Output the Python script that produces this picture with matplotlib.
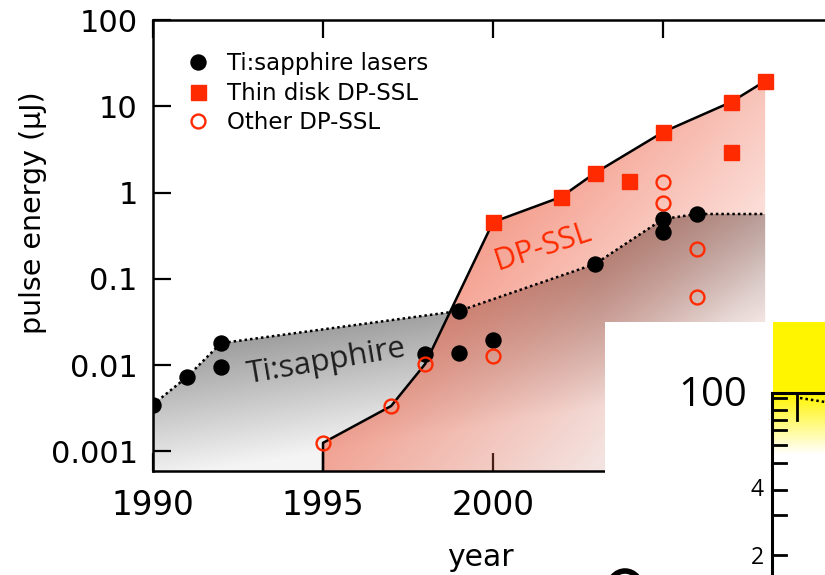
import numpy as np
import matplotlib
matplotlib.use('Agg')
import matplotlib.pyplot as plt
from matplotlib.patches import Polygon, Rectangle, Ellipse

plt.rcParams['font.family'] = ['DejaVu Sans']

# Ti:sapphire lasers (black dots)
ti_years = [1990, 1991, 1992, 1992, 1998, 1999, 1999, 2000, 2003, 2005, 2005, 2006]
ti_vals = [0.0035, 0.0073, 0.018, 0.0095, 0.0135, 0.0425, 0.0138, 0.0196, 0.149, 0.494, 0.35, 0.565]

# Thin disk DP-SSL (red squares)
thin_years = [2000, 2002, 2003, 2004, 2005, 2007, 2007, 2008]
thin_vals = [0.456, 0.89, 1.69, 1.36, 5.03, 11.2, 2.95, 19.6]

# Other DP-SSL (open red circles)
other_years = [1995, 1997, 1998, 2000, 2005, 2005, 2006, 2006]
other_vals = [0.00126, 0.00336, 0.0103, 0.0128, 1.33, 0.757, 0.222, 0.0617]

# envelopes
ti_env_years = [1990, 1991, 1992, 1999, 2003, 2005, 2006, 2008]
ti_env_vals = [0.0035, 0.0073, 0.018, 0.0425, 0.149, 0.494, 0.565, 0.565]
dp_env_years = [1995, 1997, 1998, 2000, 2002, 2003, 2005, 2007, 2008]
dp_env_vals = [0.00126, 0.00336, 0.0103, 0.456, 0.89, 1.69, 5.03, 11.2, 19.6]

ymin, ymax = 10 ** -3.226, 100
xmin, xmax = 1990, 2009.76
red = '#ff2a00'

fig = plt.figure(figsize=(8.25, 5.75), dpi=100)
W, H = 825, 575
AX_L, AX_T, AX_W, AX_H = 153, 20, 672, 451
ax = fig.add_axes([AX_L / W, (H - AX_T - AX_H) / H, AX_W / W, AX_H / H])
ax.set_yscale('log')
ax.set_xlim(xmin, xmax)
ax.set_ylim(ymin, ymax)

# gradient grids (axes coords -> pixel positions in the figure)
u = np.linspace(0, 1, 500)
v = np.linspace(0, 1, 400)
U, V = np.meshgrid(u, v)
PX = AX_L + U * AX_W
PY = AX_T + AX_H - V * AX_H

# grey: darker towards the top, a little lighter to the right
lum = 0.92 + 0.0027 * (PY - 465) + 0.00044 * (PX - 160) + 0.001 * np.clip(PX - 600, 0, None)
lum = np.clip(lum, 0.48, 0.96)
gray_img = np.dstack([lum, lum, lum, np.ones_like(lum)])

# salmon: diagonal fade from upper left to lower right
t = ((PX - 323) * 442 + (PY - 81) * 390) / 347464.0
alpha = np.clip(0.62 - 1.3 * (t - 0.40), 0.12, 0.64)
pink = np.array([0.94, 0.42, 0.32])
pink_img = np.dstack([np.full_like(alpha, pink[0]), np.full_like(alpha, pink[1]),
                      np.full_like(alpha, pink[2]), alpha])


def clip_poly(xs, ys):
    verts = [(xs[0], ymin)] + list(zip(xs, ys)) + [(xs[-1], ymin)]
    p = Polygon(verts, closed=True, facecolor='none', edgecolor='none')
    ax.add_patch(p)
    return p


gpoly = clip_poly(ti_env_years, ti_env_vals)
im1 = ax.imshow(gray_img, extent=[0, 1, 0, 1], origin='lower', transform=ax.transAxes,
                aspect='auto', zorder=1, interpolation='bilinear')
im1.set_clip_path(gpoly)

ppoly = clip_poly(dp_env_years, dp_env_vals)
im2 = ax.imshow(pink_img, extent=[0, 1, 0, 1], origin='lower', transform=ax.transAxes,
                aspect='auto', zorder=2, interpolation='bilinear')
im2.set_clip_path(ppoly)

ax.set_xlim(xmin, xmax)
ax.set_ylim(ymin, ymax)

# envelope lines
ax.plot(ti_env_years, ti_env_vals, color='black', lw=1.8, ls=(0, (1, 1.2)), zorder=3)
ax.plot([dp_env_years[0]] + dp_env_years, [ymin] + dp_env_vals, color='black', lw=1.8, zorder=3)

# data points
ax.plot(ti_years, ti_vals, 'o', color='black', ms=10.8, ls='none', zorder=5,
        label='Ti:sapphire lasers')
ax.plot(thin_years, thin_vals, 's', color=red, ms=10.8, ls='none', zorder=5,
        label='Thin disk DP-SSL')
ax.plot(other_years, other_vals, 'o', mfc='none', mec=red, mew=1.7, ms=10, ls='none',
        zorder=5, label='Other DP-SSL')

ax.text(1995.1, 0.0109, 'Ti:sapphire', family='Open Sans', fontsize=22.5, color='#1e1e1e',
        rotation=9.7, ha='center', va='center', rotation_mode='anchor', zorder=4)
ax.text(2001.47, 0.234, 'DP-SSL', family='Open Sans', fontsize=22, color=red,
        rotation=18, ha='center', va='center', rotation_mode='anchor', zorder=4)

leg = ax.legend(loc='upper left', bbox_to_anchor=(0.037, 0.95), frameon=False,
                fontsize=16.5, handlelength=1.0, handletextpad=0.75, labelspacing=0.3,
                numpoints=1, borderaxespad=0)

# axes styling
ax.set_xticks([1990, 1995, 2000, 2005])
ax.set_xticklabels(['1990', '1995', '2000', '2005'])
ax.set_yticks([0.001, 0.01, 0.1, 1, 10, 100])
ax.set_yticklabels(['0.001', '0.01', '0.1', '1', '10', '100'])
ax.minorticks_off()
ax.tick_params(axis='x', which='major', direction='in', length=13, width=1.6,
               labelsize=23.5, pad=13, top=True)
ax.tick_params(axis='y', which='major', direction='in', length=13, width=1.6,
               labelsize=22, pad=11)
for s in ['left', 'bottom', 'top']:
    ax.spines[s].set_linewidth(1.8)
ax.spines['right'].set_visible(False)

fig.text(33 / W, 1 - 213 / H, 'pulse energy (μJ)', rotation=90, ha='center', va='center',
         fontsize=20.5)
fig.text(480 / W, 1 - 557 / H, 'year', ha='center', va='center', fontsize=21.5)

# overlapping piece of another figure (bottom right)
ov = fig.add_axes([605 / W, 0, 220 / W, 253 / H], zorder=10)
ov.set_facecolor('white')
ov.set_xticks([])
ov.set_yticks([])
for s in ov.spines.values():
    s.set_visible(False)
ov.add_patch(Rectangle((773, 322), 52, 71, color='#fff500', lw=0))
fade = np.linspace(1, 0, 50)
yel = np.dstack([np.ones_like(fade), 0.96 + 0.04 * (1 - fade), 1 - fade, np.ones_like(fade)])
yel = np.repeat(yel.reshape(50, 1, 4), 2, axis=1)
ov.imshow(yel, extent=[773, 825, 455, 393], origin='upper', aspect='auto', zorder=1)
ov.set_xlim(605, 825)
ov.set_ylim(575, 322)
ov.plot([772, 772], [393, 575], color='black', lw=2.2, zorder=3)
ov.plot([772, 825], [393, 393], color='black', lw=2.2, zorder=3)
inset_ticks = [398, 410, 420, 430, 445, 463, 490, 515, 555]
for tk in inset_ticks:
    ov.plot([772, 786], [tk, tk], color='black', lw=2.0, zorder=3)
ov.plot([797, 797], [393, 420], color='black', lw=2.0, zorder=3)
ov.plot([800, 825], [398, 402], color='black', lw=1.8, ls=(0, (1, 1.2)), zorder=3)
ov.text(747, 396, '100', family='Open Sans', fontsize=29, ha='right', va='center')
ov.text(757, 490, '4', family='Open Sans', fontsize=16.5, ha='center', va='center')
ov.text(757, 558, '2', family='Open Sans', fontsize=16.5, ha='center', va='center')
ov.add_patch(Ellipse((625, 590), 34, 38, fill=False, lw=4, ec='black'))

fig.savefig('out.png', dpi=100)
